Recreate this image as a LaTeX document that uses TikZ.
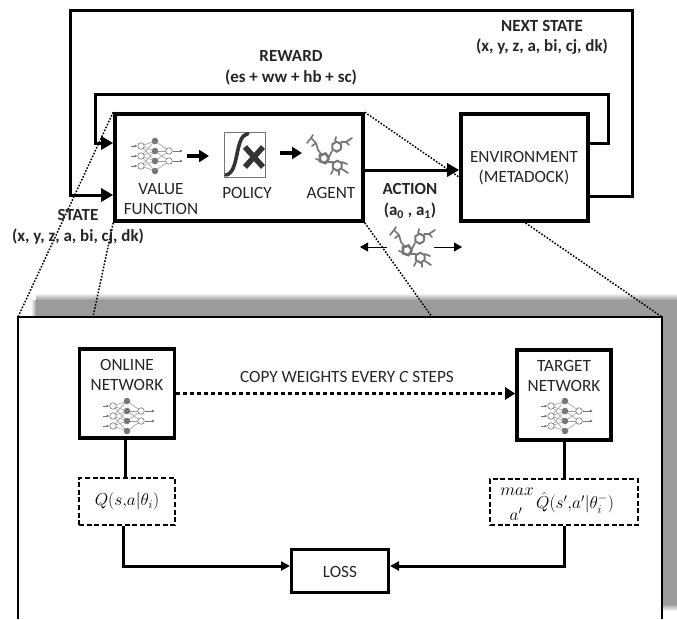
\documentclass[tikz,border=0pt]{standalone}
\usepackage{amsmath}
\usepackage{fontspec}
\setmainfont{Carlito}
\usetikzlibrary{arrows.meta, positioning, calc}
\definecolor{IconColor}{RGB}{118,118,118}
\definecolor{ShadowColor}{RGB}{155,155,155}
\tikzset{
    nnicon/.pic={
        \foreach \y in {-10,0,10} {
            \draw[IconColor, line width=0.7pt, -{Latex[length=3pt,width=3pt]}] (-24,\y) -- (-17.5,\y);
            \foreach \v in {-15,-5,5,15} {\ifnum\numexpr\y*\v\relax>-60 \draw[IconColor!70, line width=0.6pt] (-14,\y) -- (0,\v);\fi}
            \node[circle, draw=IconColor, fill=white, line width=0.6pt, minimum size=6.5pt, inner sep=0pt] at (-14,\y) {};
        }
        \foreach \v in {-15,-5,5,15} {
            \foreach \y in {-5,5} {\ifnum\numexpr\y*\v\relax>-30 \draw[IconColor!70, line width=0.6pt] (14,\y) -- (0,\v);\fi}
            \node[circle, fill=IconColor, minimum size=6.5pt, inner sep=0pt] at (0,\v) {};
        }
        \foreach \y in {-5,5} {
            \node[circle, draw=IconColor, fill=white, line width=0.6pt, minimum size=6.5pt, inner sep=0pt] at (14,\y) {};
            \draw[IconColor, line width=0.7pt, -{Latex[length=3pt,width=3pt]}] (17.5,\y) -- (28,\y);
        }
    },
    molicon/.pic={
        \foreach \cx/\cy in {7.7/-8.3, 8.3/10.7} {
            \draw[IconColor, line width=2pt] plot[samples=7, domain=30:390] ({\cx+5*cos(\x)},{\cy+5*sin(\x)});
        }
        \draw[IconColor, line width=2.6pt] plot[samples=6, domain=0:360] ({-5+5*cos(\x)},{3.3+5*sin(\x)});
        \draw[IconColor, line width=1.7pt, line cap=round]
            (-8,-1) -- (-11,-5) -- (-13,-12) -- (-18,-17) -- (-22,-12)
            (-18,-17) -- (-16,-20)
            (-13,-12) -- (-17,-9)
            (0,2) -- (3,-4)
            (-1,7) -- (4,7)
            (12,-13) -- (17,-13) -- (23,-17)
            (17,-13) -- (20,-10)
            (6,-14) -- (7,-18)
            (10,16) -- (10,20)
            (13,14) -- (19,18)
            (13,7) -- (18,9)
            (4,15) -- (2,19)
            (-10,5) -- (-13,4);
    }
}
\begin{document}
\begin{tikzpicture}[x=1pt, y=-1pt, >={Triangle[length=12pt,width=13pt]},
    lbl/.style={font=\fontsize{17.2}{20}\selectfont, align=center, text=black!85, inner sep=0pt},
    boldlbl/.style={font=\fontsize{17}{20.5}\selectfont\bfseries, align=center, text=black!85, inner sep=0pt},
    mathlbl/.style={font=\fontsize{17.28}{19}\selectfont, inner sep=0pt},
    mainbox/.style={draw, line width=3.6pt, fill=white, inner sep=0pt},
    dashbox/.style={draw, line width=1.4pt, dash pattern=on 5pt off 2.6pt, fill=white, inner sep=0pt},
    wire/.style={line width=3pt},
    dotline/.style={line width=1.5pt, dash pattern=on 1.6pt off 1.6pt},
    headsmall/.style={-{Triangle[length=8pt,width=9pt]}}]
    \useasboundingbox (0,0) rectangle (677,619);
    % Shadow of the lower panel
    \fill[ShadowColor] (36,300) rectangle (677,604);
    \shade[top color=white, bottom color=ShadowColor] (36,293) rectangle (677,300);
    \shade[left color=white, right color=ShadowColor] (31,300) rectangle (36,317);
    \shade[top color=ShadowColor, bottom color=white] (662,604) rectangle (677,611);
    % Lower panel
    \fill[white] (18,317) rectangle (662,619);
    \coordinate (panelnw) at (18,317);
    \coordinate (panelne) at (662,317);
    \coordinate (panelsw) at (18,619);
    \coordinate (panelse) at (662,619);
    \coordinate (panelfoldl) at (93,317);
    \coordinate (panelfoldr) at (432,317);
    \draw[line width=2.6pt] (panelsw) -- (panelnw) -- (panelne) -- (panelse);
    % Upper boxes
    \node[mainbox, minimum width=248pt, minimum height=107pt] (agentbox) at (239,167.5) {};
    % Dotted zoom lines
    \draw[dotline] (agentbox.north east) -- (panelne);
    \node[mainbox, minimum width=127pt, minimum height=107pt] (envbox) at (524.5,167.5) {};
    \node[lbl] (envlabel) at (524,168) {ENVIRONMENT\\(METADOCK)};
    \draw[dotline] (agentbox.north west) -- (panelnw);
    \draw[dotline] (agentbox.south west) -- (panelfoldl);
    \draw[dotline] (agentbox.south east) -- (panelfoldr);
    % Feedback loops
    \coordinate (nextright) at (632,10);
    \coordinate (nextleft) at (70,10);
    \coordinate (rewardright) at (608,94);
    \coordinate (rewardleft) at (95,94);
    \draw[wire, ->] (envbox.east |- 0,196) -| (nextright) -- (nextleft) |- (agentbox.west |- 0,195);
    \draw[wire, ->] (envbox.east |- 0,143) -| (rewardright) -- (rewardleft) |- (agentbox.west |- 0,143);
    \draw[wire, ->] (agentbox.east |- 0,170) -- (envbox.west |- 0,170);
    % Inside the agent box
    \pic at (155,156) {nnicon};
    \node[lbl] (valuelabel) at (161,199.5) {VALUE\\FUNCTION};
    \node[draw=IconColor, line width=1pt, minimum width=41pt, minimum height=45pt, inner sep=0pt] (policybox) at (244.5,154.5) {};
    \draw[black!80, line width=3.6pt, line cap=round] (226,175) .. controls (240,172) and (234,136) .. (248,133.5);
    \draw[black!80, line width=5.5pt] (245,147) -- (263,167) (263,147) -- (245,167);
    \node[lbl] (policylabel) at (247,193) {POLICY};
    \pic at (329,155) {molicon};
    \node[lbl] (agentlabel) at (331,193) {AGENT};
    \coordinate (nnout) at (187,156);
    \coordinate (policyin) at (209,156);
    \coordinate (policyout) at (280,153);
    \coordinate (agentin) at (302,153);
    \draw[line width=3.2pt, -{Triangle[length=10pt,width=12pt]}] (nnout) -- (policyin);
    \draw[line width=3.2pt, -{Triangle[length=10pt,width=12pt]}] (policyout) -- (agentin);
    % Labels of the loops
    \node[boldlbl] (nextlabel) at (542,37.5) {NEXT STATE\\(x, y, z, a, bi, cj, dk)};
    \node[boldlbl] (rewardlabel) at (291,68) {REWARD\\(es + ww + hb + sc)};
    \node[boldlbl] (statelabel) at (78,227) {STATE\\(x, y, z, a, bi, cj, dk)};
    \node[boldlbl] (actionlabel) at (410,201) {ACTION\\(a\textsubscript{0} , a\textsubscript{1})};
    % Action molecule
    \pic at (412,247) {molicon};
    \coordinate (moleft) at (387,247);
    \coordinate (moleftend) at (360,247);
    \coordinate (moright) at (434,247);
    \coordinate (morightend) at (462,247);
    \draw[line width=0.8pt, headsmall] (moleft) -- (moleftend);
    \draw[line width=0.8pt, headsmall] (moright) -- (morightend);
    % Lower panel boxes
    \node[mainbox, minimum width=95pt, minimum height=89pt] (onlinebox) at (127,393.5) {};
    \node[lbl] (onlinelabel) at (127,375) {ONLINE\\NETWORK};
    \pic at (127,416) {nnicon};
    \node[mainbox, minimum width=94pt, minimum height=90pt] (targetbox) at (564,395) {};
    \node[lbl] (targetlabel) at (564,376) {TARGET\\NETWORK};
    \pic at (565,416) {nnicon};
    \node[dashbox, minimum width=96pt, minimum height=47pt, mathlbl, inner sep=0pt] (qonline) at (127,501.5) {$Q(s{,}a|\theta_i)$};
    \node[dashbox, minimum width=148pt, minimum height=46pt] (qtarget) at (564,502) {};
    \node[mathlbl] (qmax) at (517,492) {$max$};
    \node[mathlbl] (qprime) at (516,514) {$a'$};
    \node[mathlbl, anchor=west] (qhat) at (536,503) {$\hat{Q}(s'{,}a'|\theta_i^-)$};
    \node[mainbox, line width=3pt, minimum width=97pt, minimum height=43pt] (lossbox) at (340,571) {};
    \node[lbl] (losslabel) at (340,572) {LOSS};
    % Lower panel connectors
    \draw[wire] ([xshift=-2pt]onlinebox.south) -- ([xshift=-2pt]qonline.north);
    \draw[wire] (targetbox.south) -- (qtarget.north);
    \draw[wire, -{Triangle[length=9pt,width=9pt]}] ([xshift=-4pt]qonline.south) |- ([yshift=5pt]lossbox.west);
    \draw[wire, -{Triangle[length=9pt,width=9pt]}] (qtarget.south) |- ([yshift=5pt]lossbox.east);
    \draw[line width=3.4pt, dash pattern=on 3.5pt off 3.5pt, -{Triangle[length=10pt,width=12pt]}] (onlinebox.east) -- (targetbox.west |- onlinebox.east);
    \node[lbl] (copylabel) at (347,377) {COPY WEIGHTS EVERY \textit{C} STEPS};
\end{tikzpicture}
\end{document}
